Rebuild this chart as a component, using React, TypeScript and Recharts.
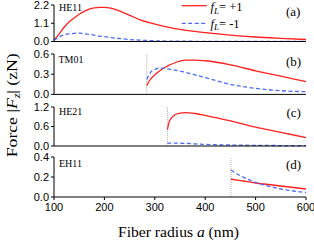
import { Line, LineChart, ReferenceLine, XAxis, YAxis } from "recharts";

const xTicks = [100, 200, 300, 400, 500, 600];

// (a) HE11
const he11Radius = [100, 110, 120, 130, 140, 150, 160, 170, 180, 190, 200, 210, 220, 230, 250, 270, 300, 330, 350, 370, 400, 450, 500, 550, 600];
const he11Plus = [0.08, 0.45, 0.86, 1.18, 1.42, 1.64, 1.82, 1.95, 2.03, 2.06, 2.06, 2.03, 1.95, 1.84, 1.58, 1.32, 1.05, 0.84, 0.73, 0.64, 0.53, 0.38, 0.27, 0.19, 0.12];
const he11Minus = [0.08, 0.28, 0.4, 0.46, 0.49, 0.5, 0.47, 0.43, 0.38, 0.33, 0.29, 0.25, 0.21, 0.18, 0.12, 0.08, 0.045, 0.025, 0.02, 0.015, 0.01, 0.006, 0.004, 0.003, 0.002];

// (b) TM01
const tm01Radius = [284, 290, 300, 310, 320, 340, 360, 380, 400, 450, 500, 550, 600];
const tm01Plus = [0.13, 0.21, 0.29, 0.35, 0.4, 0.47, 0.51, 0.51, 0.5, 0.44, 0.35, 0.27, 0.19];
const tm01Minus = [0.22, 0.31, 0.37, 0.39, 0.385, 0.36, 0.33, 0.29, 0.25, 0.15, 0.09, 0.055, 0.04];

// (c) HE21
const he21Radius = [325, 328, 333, 340, 350, 361, 380, 400, 450, 500, 550, 600];
const he21Plus = [0.5, 0.72, 0.86, 0.96, 1.01, 1.03, 1.0, 0.94, 0.77, 0.58, 0.42, 0.26];
const he21Minus = [0.08, 0.09, 0.09, 0.09, 0.085, 0.08, 0.065, 0.05, 0.03, 0.02, 0.014, 0.01];

// (d) EH11
const eh11Radius = [451, 460, 475, 500, 525, 550, 575, 600];
const eh11Plus = [0.18, 0.172, 0.16, 0.14, 0.125, 0.11, 0.095, 0.08];
const eh11Minus = [0.27, 0.24, 0.2, 0.145, 0.11, 0.08, 0.06, 0.045];

const toRows = (xs: number[], plus: number[], minus: number[]) =>
  xs.map((x, i) => ({ x, plus: plus[i], minus: minus[i] }));

const RED = "#ff2020";
const BLUE = "#4a6cf2";
const SERIF = "'Liberation Serif', 'Times New Roman', serif";
const SANS = "'Liberation Sans', Arial, sans-serif";

type PanelProps = {
  top: number;
  plotH: number;
  rows: { x: number; plus: number; minus: number }[];
  domain: [number, number];
  ticks: number[];
  cutoff?: number;
  last?: boolean;
};

function Panel({ top, plotH, rows, domain, ticks, cutoff, last }: PanelProps) {
  const axisH = last ? 30 : 5;
  return (
    <div style={{ position: "absolute", left: 0, top: top - 5 }}>
      <LineChart
        width={314}
        height={5 + plotH + axisH}
        data={rows}
        margin={{ top: 5, right: 8, bottom: 0, left: 0 }}
      >
        <XAxis
          type="number"
          dataKey="x"
          domain={[100, 600]}
          ticks={xTicks}
          interval={0}
          height={axisH}
          tickSize={3}
          tickMargin={3}
          tick={last ? { fill: "#000", fontSize: 11, fontFamily: SANS } : false}
          axisLine={{ stroke: "#000" }}
          tickLine={{ stroke: "#000" }}
        />
        <YAxis
          type="number"
          domain={domain}
          ticks={ticks}
          interval={0}
          width={54}
          tickSize={3}
          tickMargin={2}
          tickFormatter={(v: number) => v.toFixed(1)}
          tick={{ fill: "#000", fontSize: 11, fontFamily: SANS }}
          axisLine={{ stroke: "#000" }}
          tickLine={{ stroke: "#000" }}
        />
        {cutoff !== undefined && (
          <ReferenceLine x={cutoff} stroke="#b0b0b0" strokeDasharray="1 1" />
        )}
        <Line
          type="monotone"
          dataKey="plus"
          stroke={RED}
          strokeWidth={1.3}
          dot={false}
          isAnimationActive={false}
        />
        <Line
          type="monotone"
          dataKey="minus"
          stroke={BLUE}
          strokeWidth={1.3}
          strokeDasharray="4 2.5"
          dot={false}
          isAnimationActive={false}
        />
      </LineChart>
    </div>
  );
}

export default function App() {
  return (
    <div
      style={{
        position: "absolute",
        left: 0,
        top: 0,
        width: 314,
        height: 243,
        background: "#fff",
      }}
    >
      <Panel top={5.2} plotH={36.5} rows={toRows(he11Radius, he11Plus, he11Minus)} domain={[0, 2.2]} ticks={[0, 1.1, 2.2]} />
      <Panel top={54.3} plotH={40.4} rows={toRows(tm01Radius, tm01Plus, tm01Minus)} domain={[0, 0.6]} ticks={[0, 0.3, 0.6]} cutoff={284} />
      <Panel top={106.7} plotH={39} rows={toRows(he21Radius, he21Plus, he21Minus)} domain={[0, 1.2]} ticks={[0, 0.6, 1.2]} cutoff={325} />
      <Panel top={156.7} plotH={40} rows={toRows(eh11Radius, eh11Plus, eh11Minus)} domain={[0, 0.4]} ticks={[0, 0.2, 0.4]} cutoff={451} last />

      <svg
        width={314}
        height={243}
        style={{ position: "absolute", left: 0, top: 0, pointerEvents: "none" }}
        fontFamily={SERIF}
      >
        {/* mode names */}
        <g fontSize={10} fill="#000">
          <text x={59} y={10.8}>HE11</text>
          <text x={58.5} y={63}>TM01</text>
          <text x={59} y={115.3}>HE21</text>
          <text x={59} y={166.7}>EH11</text>
        </g>
        {/* panel letters */}
        <g fontSize={13} fill="#000">
          <text x={286} y={16}>(a)</text>
          <text x={286} y={66}>(b)</text>
          <text x={286.5} y={117.3}>(c)</text>
          <text x={286} y={168.5}>(d)</text>
        </g>
        {/* legend */}
        <line x1={181.7} x2={206.7} y1={5.7} y2={5.7} stroke={RED} strokeWidth={1.3} />
        <line x1={181.7} x2={206.7} y1={23.3} y2={23.3} stroke={BLUE} strokeWidth={1.3} strokeDasharray="4 2.5" />
        <text x={210.5} y={11.2} fontSize={12.5} fill="#000">
          <tspan fontStyle="italic">f</tspan>
          <tspan fontStyle="italic" fontSize={9} dy={2.5}>L</tspan>
          <tspan dy={-2.5}>= +1</tspan>
        </text>
        <text x={210.5} y={27.5} fontSize={12.5} fill="#000">
          <tspan fontStyle="italic">f</tspan>
          <tspan fontStyle="italic" fontSize={9} dy={2.5}>L</tspan>
          <tspan dy={-2.5}>= -1</tspan>
        </text>
        {/* axis titles */}
        <text
          x={178.5}
          y={237.3}
          fontSize={15}
          textAnchor="middle"
          fill="#000"
          textLength={121}
          lengthAdjust="spacingAndGlyphs"
        >
          Fiber radius <tspan fontStyle="italic">a</tspan> (nm)
        </text>
        <text
          transform="translate(17.3,105.3) rotate(-90)"
          fontSize={15}
          textAnchor="middle"
          fill="#000"
          textLength={104}
          lengthAdjust="spacingAndGlyphs"
        >
          Force |<tspan fontStyle="italic">F</tspan>
          <tspan fontStyle="italic" fontSize={10} dy={3}>z</tspan>
          <tspan dy={-3}>| (zN)</tspan>
        </text>
      </svg>
    </div>
  );
}
